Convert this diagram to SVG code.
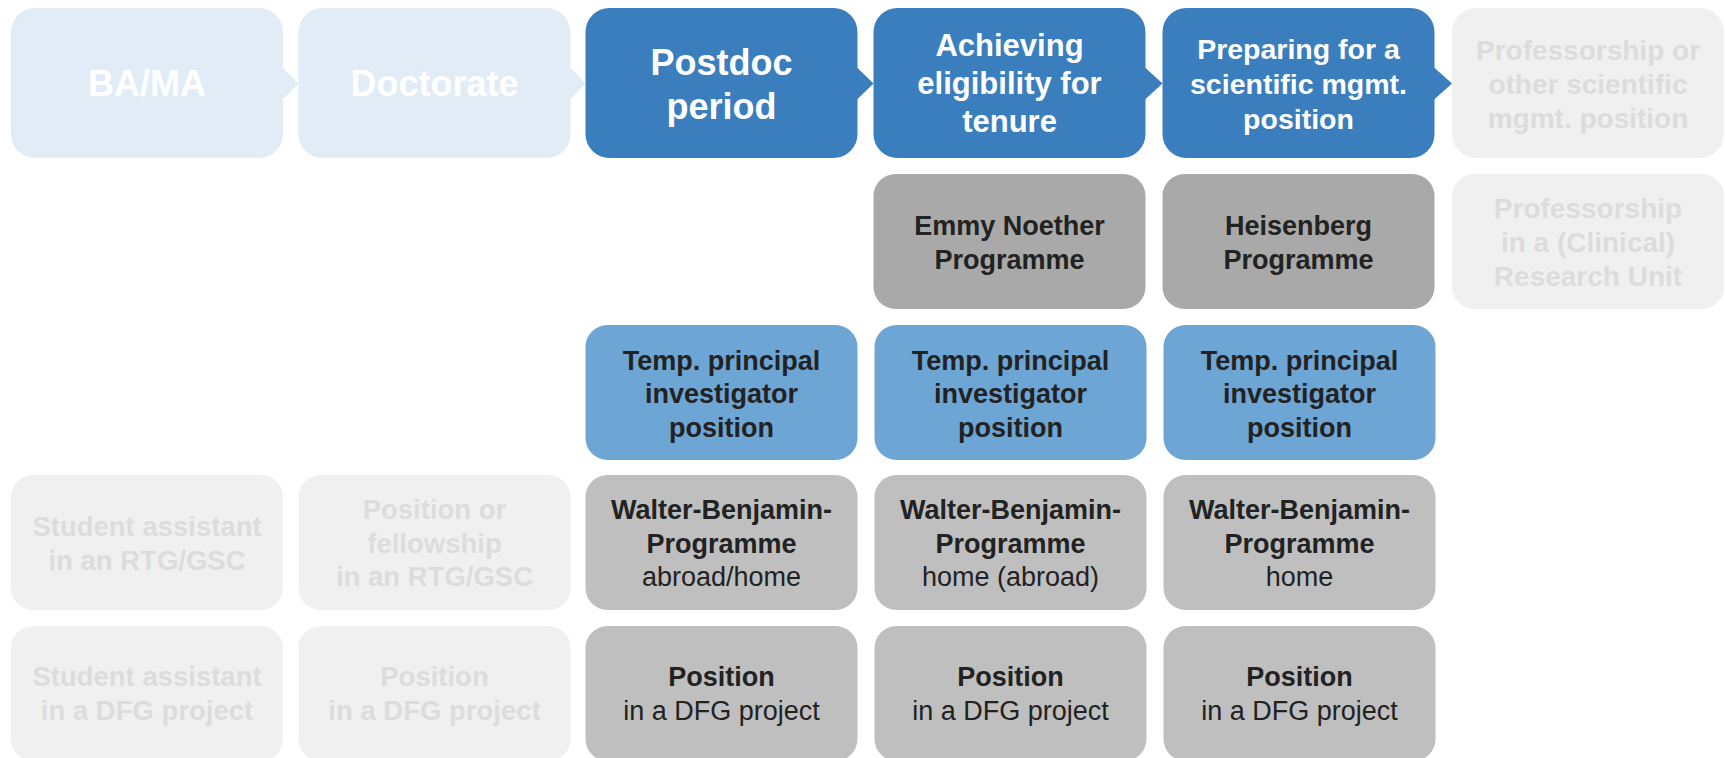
<svg xmlns="http://www.w3.org/2000/svg" width="1725" height="758" viewBox="0 0 1725 758">
<style>
text{font-family:"Liberation Sans",Arial,Helvetica,sans-serif;text-anchor:middle}
.b{font-weight:bold}
.lb{fill:#E2ECF6}
.db{fill:#3A7EBD}
.mb{fill:#6DA5D4}
.fg{fill:#F0F0F0}
.dg{fill:#A9A9A9}
.g{fill:#BFBFBF}
.tw{fill:#FFFFFF}
.tf{fill:#DCDCDC}
.td{fill:#222222}
</style>
<rect width="1725" height="758" fill="#FFFFFF"/>
<g id="connectors">
<polygon class="lb" points="282,67 298.5,83.5 282,100"/>
<polygon class="lb" points="569.5,67 585.5,83.5 569.5,100"/>
<polygon class="db" points="856.5,67 873.5,83.5 856.5,100"/>
<polygon class="db" points="1144.5,67 1162.5,83.5 1144.5,100"/>
<polygon class="db" points="1433.5,67 1452,83.5 1433.5,100"/>
</g>
<g id="n-bama"><rect class="lb" x="11" y="8" width="272" height="150" rx="24"/>
<text class="b tw" x="147" y="96" font-size="36">BA/MA</text></g>
<g id="n-doctorate"><rect class="lb" x="298.5" y="8" width="272" height="150" rx="24"/>
<text class="b tw" x="434.5" y="96" font-size="36">Doctorate</text></g>
<g id="n-postdoc"><rect class="db" x="585.5" y="8" width="272" height="150" rx="24"/>
<text class="b tw" x="721.5" y="75" font-size="36">Postdoc</text>
<text class="b tw" x="721.5" y="119" font-size="36">period</text></g>
<g id="n-eligibility"><rect class="db" x="873.5" y="8" width="272" height="150" rx="24"/>
<text class="b tw" x="1009.5" y="56" font-size="31">Achieving</text>
<text class="b tw" x="1009.5" y="94" font-size="31">eligibility for</text>
<text class="b tw" x="1009.5" y="132" font-size="31">tenure</text></g>
<g id="n-preparing"><rect class="db" x="1162.5" y="8" width="272" height="150" rx="24"/>
<text class="b tw" x="1298.5" y="58.5" font-size="28.5">Preparing for a</text>
<text class="b tw" x="1298.5" y="93.5" font-size="28.5">scientific mgmt.</text>
<text class="b tw" x="1298.5" y="128.5" font-size="28.5">position</text></g>
<g id="n-professorship"><rect class="fg" x="1452" y="8" width="272" height="150" rx="24"/>
<text class="b tf" x="1588" y="59.5" font-size="28">Professorship or</text>
<text class="b tf" x="1588" y="93.5" font-size="28">other scientific</text>
<text class="b tf" x="1588" y="127.5" font-size="28">mgmt. position</text></g>

<g id="n-emmy"><rect class="dg" x="873.5" y="174" width="272" height="135" rx="22"/>
<text class="b td" x="1009.5" y="235" font-size="27">Emmy Noether</text>
<text class="b td" x="1009.5" y="269" font-size="27">Programme</text></g>
<g id="n-heisenberg"><rect class="dg" x="1162.5" y="174" width="272" height="135" rx="22"/>
<text class="b td" x="1298.5" y="235" font-size="27">Heisenberg</text>
<text class="b td" x="1298.5" y="269" font-size="27">Programme</text></g>
<g id="n-clinical"><rect class="fg" x="1452" y="174" width="272" height="135" rx="22"/>
<text class="b tf" x="1588" y="217.5" font-size="28">Professorship</text>
<text class="b tf" x="1588" y="251.5" font-size="28">in a (Clinical)</text>
<text class="b tf" x="1588" y="285.5" font-size="28">Research Unit</text></g>

<g id="n-tpi1"><rect class="mb" x="585.5" y="325" width="272" height="135" rx="22"/>
<text class="b td" x="721.5" y="369.5" font-size="27">Temp. principal</text>
<text class="b td" x="721.5" y="403" font-size="27">investigator</text>
<text class="b td" x="721.5" y="436.5" font-size="27">position</text></g>
<g id="n-tpi2"><rect class="mb" x="874.5" y="325" width="272" height="135" rx="22"/>
<text class="b td" x="1010.5" y="369.5" font-size="27">Temp. principal</text>
<text class="b td" x="1010.5" y="403" font-size="27">investigator</text>
<text class="b td" x="1010.5" y="436.5" font-size="27">position</text></g>
<g id="n-tpi3"><rect class="mb" x="1163.5" y="325" width="272" height="135" rx="22"/>
<text class="b td" x="1299.5" y="369.5" font-size="27">Temp. principal</text>
<text class="b td" x="1299.5" y="403" font-size="27">investigator</text>
<text class="b td" x="1299.5" y="436.5" font-size="27">position</text></g>

<g id="n-sa-rtg"><rect class="fg" x="11" y="475" width="272" height="135" rx="22"/>
<text class="b tf" x="147" y="536" font-size="27.5">Student assistant</text>
<text class="b tf" x="147" y="570" font-size="27.5">in an RTG/GSC</text></g>
<g id="n-pos-rtg"><rect class="fg" x="298.5" y="475" width="272" height="135" rx="22"/>
<text class="b tf" x="434.5" y="518.5" font-size="27.5">Position or</text>
<text class="b tf" x="434.5" y="552.5" font-size="27.5">fellowship</text>
<text class="b tf" x="434.5" y="586" font-size="27.5">in an RTG/GSC</text></g>
<g id="n-wb1"><rect class="g" x="585.5" y="475" width="272" height="135" rx="22"/>
<text class="b td" x="721.5" y="518.5" font-size="27">Walter-Benjamin-</text>
<text class="b td" x="721.5" y="552.5" font-size="27">Programme</text>
<text class="td" x="721.5" y="586" font-size="27">abroad/home</text></g>
<g id="n-wb2"><rect class="g" x="874.5" y="475" width="272" height="135" rx="22"/>
<text class="b td" x="1010.5" y="518.5" font-size="27">Walter-Benjamin-</text>
<text class="b td" x="1010.5" y="552.5" font-size="27">Programme</text>
<text class="td" x="1010.5" y="586" font-size="27">home (abroad)</text></g>
<g id="n-wb3"><rect class="g" x="1163.5" y="475" width="272" height="135" rx="22"/>
<text class="b td" x="1299.5" y="518.5" font-size="27">Walter-Benjamin-</text>
<text class="b td" x="1299.5" y="552.5" font-size="27">Programme</text>
<text class="td" x="1299.5" y="586" font-size="27">home</text></g>

<g id="n-sa-dfg"><rect class="fg" x="11" y="626" width="272" height="135" rx="22"/>
<text class="b tf" x="147" y="686" font-size="27.5">Student assistant</text>
<text class="b tf" x="147" y="720" font-size="27.5">in a DFG project</text></g>
<g id="n-pos-dfg0"><rect class="fg" x="298.5" y="626" width="272" height="135" rx="22"/>
<text class="b tf" x="434.5" y="686" font-size="27.5">Position</text>
<text class="b tf" x="434.5" y="720" font-size="27.5">in a DFG project</text></g>
<g id="n-pos-dfg1"><rect class="g" x="585.5" y="626" width="272" height="135" rx="22"/>
<text class="b td" x="721.5" y="686" font-size="27">Position</text>
<text class="td" x="721.5" y="720" font-size="27">in a DFG project</text></g>
<g id="n-pos-dfg2"><rect class="g" x="874.5" y="626" width="272" height="135" rx="22"/>
<text class="b td" x="1010.5" y="686" font-size="27">Position</text>
<text class="td" x="1010.5" y="720" font-size="27">in a DFG project</text></g>
<g id="n-pos-dfg3"><rect class="g" x="1163.5" y="626" width="272" height="135" rx="22"/>
<text class="b td" x="1299.5" y="686" font-size="27">Position</text>
<text class="td" x="1299.5" y="720" font-size="27">in a DFG project</text></g>
</svg>
